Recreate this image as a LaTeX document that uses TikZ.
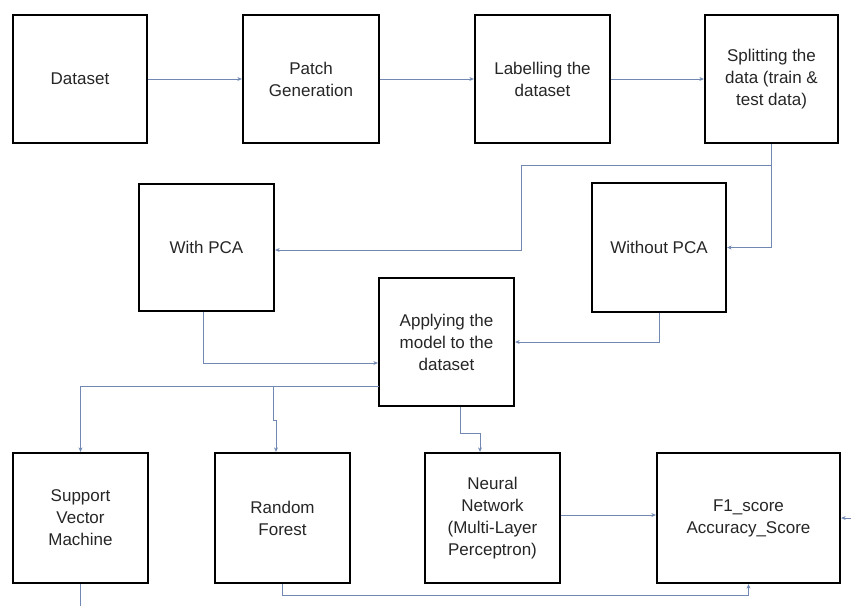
\documentclass[tikz,border=0pt]{standalone}
\usepackage{fontspec}
\setmainfont{Liberation Sans}
\usetikzlibrary{arrows.meta}
\definecolor{conncol}{RGB}{112,136,178}
\tikzset{
  box/.style={draw=black, line width=2.3pt, fill=white, inner sep=2pt, align=center,
    font=\fontsize{17}{22}\selectfont, text=black!85},
  conn/.style={draw=conncol, line width=0.9pt, -{Stealth[length=4.5pt,width=4pt]}},
  plain/.style={draw=conncol, line width=0.9pt}
}
\begin{document}
\begin{tikzpicture}[x=1pt,y=-1pt]
\useasboundingbox (0,0) rectangle (851,606);
% top row
\node[box, minimum width=134pt, minimum height=128pt] (ds) at (80,79) {Dataset};
\node[box, minimum width=136pt, minimum height=128pt] (pg) at (311,79) {Patch\\Generation};
\node[box, minimum width=135pt, minimum height=128pt] (lb) at (542.5,79) {Labelling the\\dataset};
\node[box, minimum width=133pt, minimum height=128pt] (sp) at (771.5,79) {Splitting the\\data (train \&\\test data)};
% middle
\node[box, minimum width=135pt, minimum height=127pt] (wp) at (206.5,247.5) {With PCA};
\node[box, minimum width=134pt, minimum height=129pt] (wo) at (659,247.5) {Without PCA};
\node[box, minimum width=135pt, minimum height=128pt] (ap) at (446.5,342) {Applying the\\model to the\\dataset};
% bottom row
\node[box, minimum width=135pt, minimum height=130pt] (svm) at (80.5,518) {Support\\Vector\\Machine};
\node[box, minimum width=135pt, minimum height=130pt] (rf) at (282.5,518) {Random\\Forest};
\node[box, minimum width=135pt, minimum height=130pt] (nn) at (492.5,518) {Neural\\Network\\(Multi-Layer\\Perceptron)};
\node[box, minimum width=183pt, minimum height=130pt] (f1) at (748.5,518) {F1\_score\\Accuracy\_Score};
% free ends
\coordinate (j1) at (771.5,165);
\coordinate (a1) at (379,386);
\coordinate (b2) at (273,386);
\coordinate (r1) at (851,518);
\coordinate (s1) at (80.5,606);
% connectors
\draw[conn] (ds.east) -- (pg.west);
\draw[conn] (pg.east) -- (lb.west);
\draw[conn] (lb.east) -- (sp.west);
\draw[conn] (sp.south) |- (wo.east);
\draw[conn] (j1) -- ++(-250,0) |- ([yshift=-2.5pt]wp.east);
\draw[conn] ([xshift=-3.5pt]wp.south) |- ([yshift=-21pt]ap.west);
\draw[conn] (wo.south) |- (ap.east);
\draw[conn] (a1) -| (svm.north);
\draw[conn] (b2) -- ++(0,34) -| ([xshift=-6.5pt]rf.north);
\draw[conn] ([xshift=13.5pt]ap.south) -- ++(0,26) -| ([xshift=-12.5pt]nn.north);
\draw[conn] ([yshift=3pt]nn.east) -- ([yshift=3pt]f1.west);
\draw[conn] (rf.south) -- ++(0,11) -| (f1.south);
\draw[conn] (r1) -- (f1.east);
\draw[plain] (svm.south) -- (s1);
\end{tikzpicture}
\end{document}
